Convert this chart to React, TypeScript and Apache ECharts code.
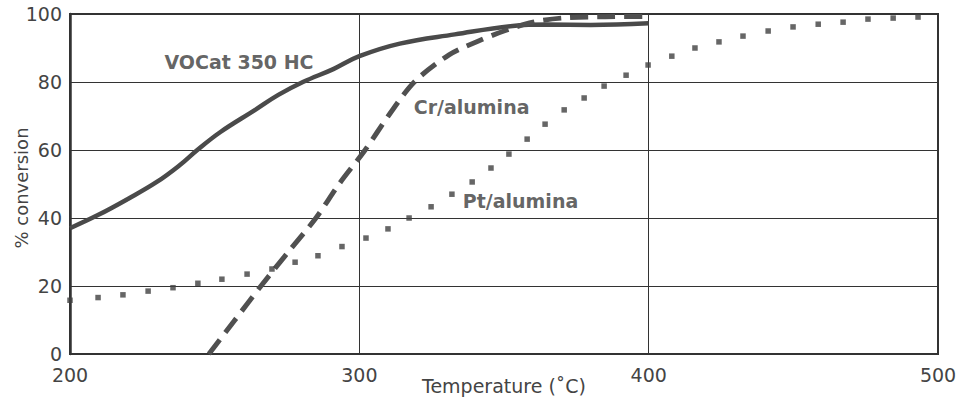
import React, { useEffect, useRef } from "react";
import * as echarts from "echarts";

// Temperature (°C) ticks and axis ranges
const xTicks = [200, 300, 400, 500];
const yTicks = [0, 20, 40, 60, 80, 100];

// VOCat 350 HC (solid line)
const vocatT = [200, 210, 220, 230, 238, 244, 252, 264, 272, 280.5, 291, 300, 314, 333, 353, 365, 380, 400];
const vocatV = [37, 41, 45.6, 50.6, 55.6, 60, 65.3, 71.8, 76.2, 80, 83.8, 87.6, 91.3, 94, 96.5, 96.9, 96.8, 97.3];

// Cr/alumina (dashed line)
const crT = [248, 257, 266, 276, 285, 293, 302, 310, 319, 331, 341, 350, 360, 370, 385, 400];
const crV = [0, 10, 20, 30.6, 40, 50, 60, 70, 80, 88, 92, 95, 97.6, 98.8, 99.2, 99.3];

// Pt/alumina (dotted line, one square per dot)
const ptT = [200, 209.7, 218.3, 227, 235.6, 244.2, 252.5, 261.2, 269.8, 277.8, 285.7, 294, 302.3, 309.9, 317.2, 324.8, 332, 339, 345.5, 351.7, 358, 364.2, 370.8, 377.7, 384.6, 392.2, 399.8, 408, 416, 424.3, 432.6, 441.3, 449.9, 458.6, 467.2, 475.8, 484.5, 493.1];
const ptV = [15.8, 16.6, 17.4, 18.5, 19.5, 20.8, 22, 23.5, 25, 27, 28.9, 31.6, 34.1, 36.8, 40, 43.3, 47, 50.6, 54.7, 58.8, 63.2, 67.6, 71.8, 75.3, 78.8, 82, 85, 87.6, 90, 91.8, 93.5, 95, 96.2, 97, 97.6, 98.5, 98.8, 99.1];

// Curve labels (data coordinates)
const labelNames = ["VOCat 350 HC", "Cr/alumina", "Pt/alumina"];
const labelT = [258.4, 338.8, 355.7];
const labelV = [85.9, 72.6, 45];

const FONT = "DejaVu Sans";
const INK = "#4a4a4a";

export default function App() {
  const ref = useRef<HTMLDivElement>(null);
  useEffect(() => {
    if (!ref.current) return;
    const chart = echarts.init(ref.current, undefined, { renderer: "svg" });
    const zip = (a: number[], b: number[]) => a.map((v, i) => [v, b[i]]);
    chart.setOption({
      animation: false,
      backgroundColor: "#ffffff",
      grid: {
        left: 70,
        right: 22,
        top: 14,
        bottom: 47,
        containLabel: false,
        outerBoundsMode: "none",
        show: true,
        borderColor: "#333",
        borderWidth: 2,
      },
      xAxis: {
        type: "value",
        min: xTicks[0],
        max: xTicks[xTicks.length - 1],
        interval: 100,
        name: "Temperature (˚C)",
        nameLocation: "middle",
        nameGap: 22,
        nameMoveOverlap: false,
        nameTextStyle: { fontFamily: FONT, fontSize: 19, color: "#444" },
        axisLine: { show: true, lineStyle: { color: "#333", width: 2 } },
        axisTick: { show: false },
        axisLabel: { fontFamily: FONT, fontSize: 19, lineHeight: 19, color: "#444", margin: 11 },
        splitLine: { show: true, lineStyle: { color: "#333", width: 1 } },
      },
      yAxis: {
        type: "value",
        min: yTicks[0],
        max: yTicks[yTicks.length - 1],
        interval: 20,
        name: "% conversion",
        nameLocation: "middle",
        nameGap: 40,
        nameMoveOverlap: false,
        nameTextStyle: { fontFamily: FONT, fontSize: 18, color: "#444", padding: [0, 8, 0, 0] },
        axisLine: { show: true, lineStyle: { color: "#333", width: 2.5 } },
        axisTick: { show: false },
        axisLabel: { fontFamily: FONT, fontSize: 19, lineHeight: 17, color: "#444", margin: 8 },
        splitLine: { show: true, lineStyle: { color: "#333", width: 1 } },
      },
      series: [
        {
          name: "VOCat 350 HC",
          type: "line",
          data: zip(vocatT, vocatV),
          smooth: 0.4,
          showSymbol: false,
          lineStyle: { color: INK, width: 4.5 },
          z: 3,
        },
        {
          name: "Cr/alumina",
          type: "line",
          data: zip(crT, crV),
          smooth: 0.3,
          showSymbol: false,
          lineStyle: { color: "#505050", width: 5, type: [18, 9], cap: "butt" },
          z: 4,
        },
        {
          name: "Pt/alumina",
          type: "scatter",
          data: zip(ptT, ptV),
          symbol: "rect",
          symbolSize: 5.5,
          itemStyle: { color: "#404040" },
          z: 5,
        },
        {
          name: "labels",
          type: "scatter",
          data: labelNames.map((n, i) => ({ name: n, value: [labelT[i], labelV[i]] })),
          symbolSize: 0,
          silent: true,
          label: {
            show: true,
            position: "inside",
            formatter: (p: any) => p.name,
            fontFamily: FONT,
            fontWeight: "bold",
            fontSize: 19,
            color: "#3c3c3c",
          },
          z: 6,
        },
      ],
    });
    return () => chart.dispose();
  }, []);
  return (
    <div
      ref={ref}
      style={{ position: "fixed", left: 0, top: 0, width: 960, height: 401 }}
    />
  );
}
